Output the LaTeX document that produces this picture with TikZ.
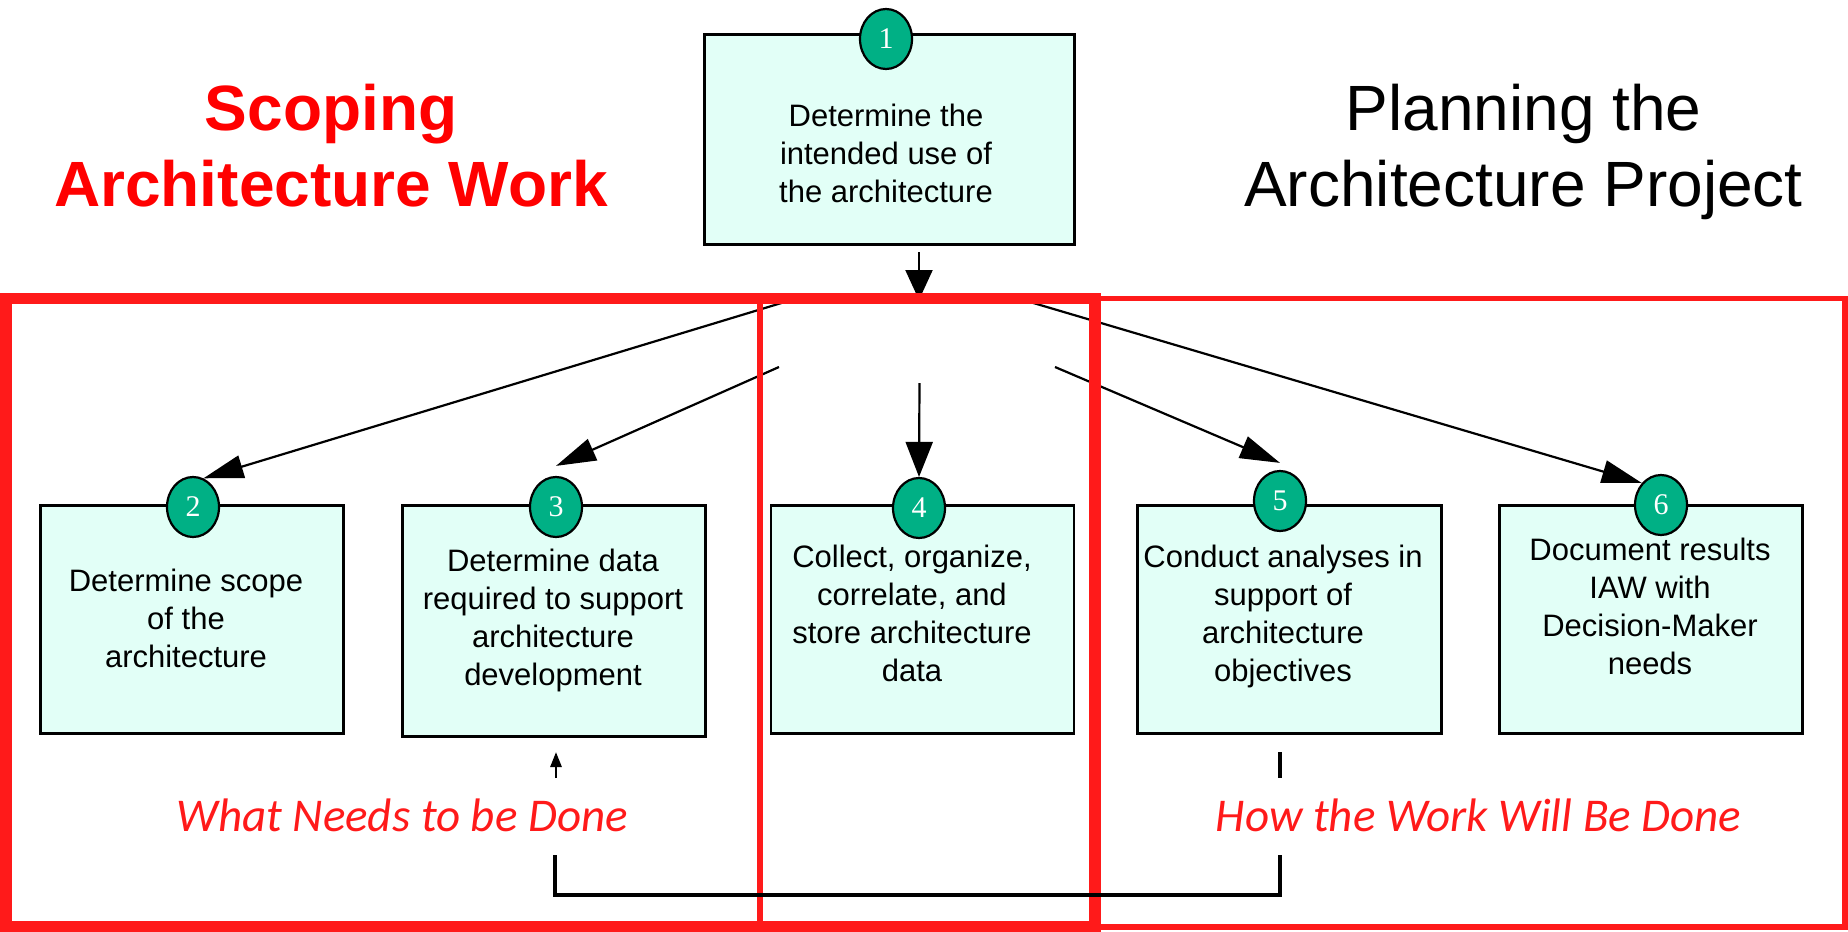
\documentclass[tikz,border=0pt]{standalone}
\usepackage{fontspec}
\setmainfont{Liberation Sans}
\newfontfamily\numfont{Liberation Serif}
\newfontfamily\capfont{Carlito}
\usetikzlibrary{shapes.geometric,arrows.meta}
\definecolor{boxfill}{RGB}{226,255,247}
\definecolor{numgreen}{RGB}{0,176,133}
\definecolor{framered}{RGB}{255,26,26}
\definecolor{titlered}{RGB}{255,0,0}
\begin{document}
\begin{tikzpicture}[x=1pt,y=-1pt,
  stepbox/.style={draw=black,line width=2.5pt,fill=boxfill,anchor=north west,inner sep=0pt,minimum width=303pt,minimum height=228pt},
  numdot/.style={ellipse,draw=black,line width=2.2pt,fill=numgreen,minimum width=52pt,minimum height=60pt,inner sep=0pt,text=white,font=\numfont\fontsize{30}{30}\selectfont},
  boxtext/.style={anchor=north,inner sep=0pt,align=center,font=\fontsize{31}{38}\selectfont},
  arr/.style={line width=2.2pt,-{Triangle[length=40pt,width=23pt]}},
  varr/.style={line width=2.2pt,-{Triangle[length=35pt,width=27pt]}},
  conn/.style={line width=3.5pt},
  bigtitle/.style={anchor=north,inner sep=0pt,align=center,font=\fontsize{64}{76}\selectfont},
  subtitle/.style={anchor=base,inner sep=0pt,text=framered,font=\capfont\itshape\fontsize{47}{56}\selectfont}
]
\useasboundingbox (0,0) rectangle (1848,932);

% boxes
\node[stepbox,minimum width=370pt,minimum height=210pt] (b1) at (703,33) {};
\node[stepbox] (b2) at (39,504) {};
\node[stepbox,minimum height=231pt] (b3) at (401,504) {};
\node[stepbox] (b4) at (769.5,504) {};
\node[stepbox,minimum width=304pt] (b5) at (1136,504) {};
\node[stepbox] (b6) at (1498,504) {};

% number circles
\node[numdot] (c1) at (886,39) {1};
\node[numdot] (c2) at (193,507) {2};
\node[numdot] (c3) at (556,507) {3};
\node[numdot] (c4) at (919,508) {4};
\node[numdot] (c5) at (1280,501) {5};
\node[numdot] (c6) at (1661,505) {6};

% box texts
\node[boxtext] (t1) at (886,99.4) {\strut Determine the\\\strut intended use of\\\strut the architecture};
\node[boxtext] (t2) at (186,565) {\strut Determine scope\\\strut of the\\\strut architecture};
\node[boxtext] (t3) at (553,545) {\strut Determine data\\\strut required to support\\\strut architecture\\\strut development};
\node[boxtext] (t4) at (912,540.7) {\strut Collect, organize,\\\strut correlate, and\\\strut store architecture\\\strut data};
\node[boxtext] (t5) at (1283,540.7) {\strut Conduct analyses in\\\strut support of\\\strut architecture\\\strut objectives};
\node[boxtext] (t6) at (1650,533.4) {\strut Document results\\\strut IAW with\\\strut Decision-Maker\\\strut needs};

% arrows
\coordinate (s1) at (919,252);
\coordinate (e1) at (919,300);
\coordinate (s2) at (788,301);
\coordinate (s3) at (779,367);
\coordinate (s4) at (919.5,383);
\coordinate (s5) at (1055,367);
\coordinate (s6) at (1030,302);
\draw[line width=2.2pt,-{Triangle[length=30pt,width=27pt]}] (s1) -- (e1);
\draw[arr] (s2) -- (c2.70);
\draw[arr] (s3) -- ([yshift=10pt]c3.north);
\draw[varr] (s4) -- (c4.north);
\draw[arr] (s5) -- ([yshift=7pt]c5.north);
\draw[arr] (s6) -- (c6.north west);

% red frames
\draw[framered,line width=5.5pt] (1095,298.3) rectangle (1845,927);
\draw[framered,line width=6pt] (760,298.5) rectangle (1095,926.5);
\draw[framered,line width=11.5pt] (6,298.5) rectangle (1095,926.5);

% bottom connector
\coordinate (p5a) at (1280,752);
\coordinate (p5b) at (1280,778);
\coordinate (q5) at (1280,855);
\coordinate (k5) at (1280,895);
\coordinate (k3) at (555,895);
\coordinate (q3) at (555,855);
\coordinate (r3a) at (556,778);
\coordinate (r3b) at (556,752);
\draw[conn] (p5a) -- (p5b);
\draw[conn] (q5) -- (k5) -- (k3) -- (q3);
\draw[line width=2.7pt,-{Triangle[length=15pt,width=11pt]}] (r3a) -- (r3b);

% titles
\node[bigtitle,text=titlered,font=\bfseries\fontsize{64}{76}\selectfont] (tl) at (331,77.5) {\strut Scoping\\\strut Architecture Work};
\node[bigtitle] (tr) at (1523.5,77.3) {\strut Planning the\\\strut Architecture Project};

% subtitles
\node[subtitle] (w1) at (402,831.7) {What Needs to be Done};
\node[subtitle] (w2) at (1478.6,831.7) {How the Work Will Be Done};
\end{tikzpicture}
\end{document}
